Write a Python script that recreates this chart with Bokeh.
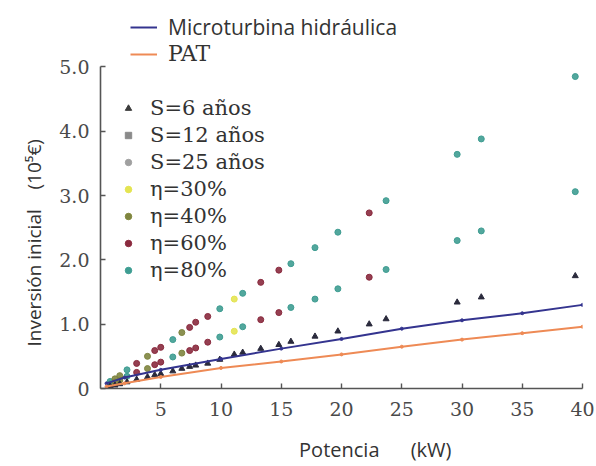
import math
from bokeh.plotting import figure
from bokeh.models import (Range1d, FixedTicker, Legend, LegendItem, Title,
                          ColumnDataSource, PrintfTickFormatter)
from bokeh.embed import file_html
from bokeh.resources import INLINE
from bokeh.transform import factor_cmap

# ---------------- data ----------------
power = [0.8, 1.2, 1.6, 2.2, 3.0, 3.9, 4.5, 5.0, 6.0, 6.75, 7.4, 7.9, 8.9,
         9.9, 11.1, 11.8, 13.3, 14.8, 15.8, 17.8, 19.7, 22.3, 23.7, 29.6,
         31.6, 39.4]
inv_s25 = [0.11, 0.15, 0.20, 0.29, 0.39, 0.50, 0.59, 0.64, 0.76, 0.87, 0.95,
           1.03, 1.12, 1.24, 1.39, 1.48, 1.65, 1.84, 1.94, 2.19, 2.43, 2.73,
           2.92, 3.64, 3.88, 4.85]
inv_s12 = [0.07, 0.10, 0.13, 0.19, 0.25, 0.31, 0.37, 0.41, 0.49, 0.55, 0.59,
           0.63, 0.72, 0.80, 0.89, 0.96, 1.07, 1.18, 1.26, 1.39, 1.55, 1.73,
           1.85, 2.30, 2.45, 3.06]
inv_s6 = [0.04, 0.05, 0.07, 0.10, 0.14, 0.18, 0.21, 0.23, 0.27, 0.31, 0.34,
          0.36, 0.39, 0.45, 0.53, 0.56, 0.62, 0.68, 0.73, 0.81, 0.89, 1.00,
          1.08, 1.34, 1.42, 1.75]
eta = ["80", "40", "40", "80", "60", "40", "60", "60", "80", "40", "60",
       "60", "60", "80", "30", "80", "60", "60", "80", "80", "80", "60",
       "80", "80", "80", "80"]

line_power = [0.5, 2, 5, 10, 15, 20, 25, 30, 35, 40]
micro_cost = [0.08, 0.17, 0.29, 0.46, 0.62, 0.77, 0.93, 1.06, 1.17, 1.30]
pat_cost = [0.03, 0.08, 0.18, 0.32, 0.42, 0.53, 0.65, 0.76, 0.86, 0.96]

x_ticks = [5, 10, 15, 20, 25, 30, 35, 40]
y_ticks = [0, 1, 2, 3, 4, 5]

eta_levels = ["30", "40", "60", "80"]
eta_colors = ["#e4e452", "#7f8540", "#8a2a3e", "#3f9d92"]
eta_halo = ["#f6f6a8", "#eef2a8", "#f7ccd6", "#c6f0ec"]
eta_labels = ["η=30%", "η=40%", "η=60%", "η=80%"]
s_labels = ["S=6 años", "S=12 años", "S=25 años"]
s_markers = ["triangle", "square", "circle"]
s_colors = ["#3c3c3c", "#8a8a8a", "#a0a0a0"]

NB = "\u00a0"

# ---------------- figure ----------------
p = figure(width=596, height=466, output_backend="svg", toolbar_location=None,
           x_range=Range1d(0, 40), y_range=Range1d(0, 5.97),
           min_border_left=100, min_border_right=14, min_border_top=4,
           min_border_bottom=78)
p.outline_line_color = None
p.xgrid.visible = False
p.ygrid.visible = False
p.background_fill_color = "white"

axis_col = "#555555"
for ax in (p.xaxis[0], p.yaxis[0]):
    ax.axis_line_color = axis_col
    ax.axis_line_width = 1.6
    ax.major_tick_line_color = axis_col
    ax.major_tick_line_width = 1.4
    ax.major_tick_in = 5
    ax.major_tick_out = 0
    ax.minor_tick_line_color = None
    ax.major_label_text_font = "DejaVu Serif"
    ax.major_label_text_font_size = "19px"
    ax.major_label_text_color = "#4a4a4a"

p.xaxis.ticker = FixedTicker(ticks=x_ticks)
p.xaxis.bounds = (0, 40)
p.xaxis.major_label_standoff = 13
p.xaxis.axis_label = NB * 13 + "Potencia" + NB * 6 + "(kW)"
p.xaxis.axis_label_text_font = "Open Sans"
p.xaxis.axis_label_text_font_size = "20px"
p.xaxis.axis_label_text_font_style = "normal"
p.xaxis.axis_label_text_color = "#333333"
p.xaxis.axis_label_standoff = 17

p.yaxis.ticker = FixedTicker(ticks=y_ticks)
p.yaxis.bounds = (0, 5)
p.yaxis.formatter = PrintfTickFormatter(format="%.1f")
p.yaxis.major_label_overrides = {0: "0"}
p.yaxis.major_label_standoff = 11

# ---------------- glyphs ----------------
src = ColumnDataSource(dict(power=power, s6=inv_s6, s12=inv_s12,
                            s25=inv_s25, eta=eta))
cmap = factor_cmap("eta", eta_colors, eta_levels)
p.scatter("power", "s25", source=src, marker="circle", size=6,
          fill_color=cmap, line_color=cmap, fill_alpha=0.9)
p.scatter("power", "s12", source=src, marker="circle", size=6,
          fill_color=cmap, line_color=cmap, fill_alpha=0.9)
p.scatter("power", "s6", source=src, marker="triangle", size=6,
          fill_color="#2a2a3c", line_color="#2a2a3c")

micro_col = "#34348f"
pat_col = "#ee8a55"
r_micro = p.line(line_power, micro_cost, line_color=micro_col, line_width=2)
p.scatter(line_power, micro_cost, size=3, color=micro_col)
r_pat = p.line(line_power, pat_cost, line_color=pat_col, line_width=2)
p.scatter(line_power, pat_cost, size=3, color=pat_col)

# legend-only renderers (a single NaN point, never drawn in the plot)
nan_x, nan_y = [math.nan], [math.nan]
leg_s = [[p.scatter(nan_x, nan_y, marker=m, size=6, color=c)]
         for m, c in zip(s_markers, s_colors)]
leg_eta = [[p.scatter(nan_x, nan_y, marker="circle", size=12, color=h,
                      alpha=0.8),
            p.scatter(nan_x, nan_y, marker="circle", size=6, color=c)]
           for c, h in zip(eta_colors, eta_halo)]

def make_legend(items, loc, font, size, standoff, gw, spacing):
    lg = Legend(items=items, location=loc, padding=0, margin=0,
                border_line_color=None, background_fill_alpha=0,
                label_text_font=font, label_text_font_size=size,
                label_text_color="#333333", glyph_width=gw, glyph_height=20,
                label_height=20, spacing=spacing, label_standoff=standoff)
    p.add_layout(lg, "center")

make_legend([LegendItem(label="Microturbina hidráulica", renderers=[r_micro])],
            (30, 347), "Open Sans", "21px", 11, 27, 0)
make_legend([LegendItem(label="PAT", renderers=[r_pat])],
            (30, 322), "DejaVu Serif", "22px", 11, 27, 0)
make_legend([LegendItem(label=l, renderers=r) for l, r in
             zip(s_labels + eta_labels, leg_s + leg_eta)],
            (20, 106), "DejaVu Serif", "21px", 14, 16, 3)

# ---------------- y axis title ----------------
p.add_layout(Title(text="Inversión inicial" + NB * 4 + "(10⁵€)", align="left",
                   offset=42, text_font="Open Sans", text_font_size="19px",
                   text_font_style="normal", text_color="#333333",
                   standoff=19), "left")

open("out.html", "w").write(file_html(p, INLINE))
